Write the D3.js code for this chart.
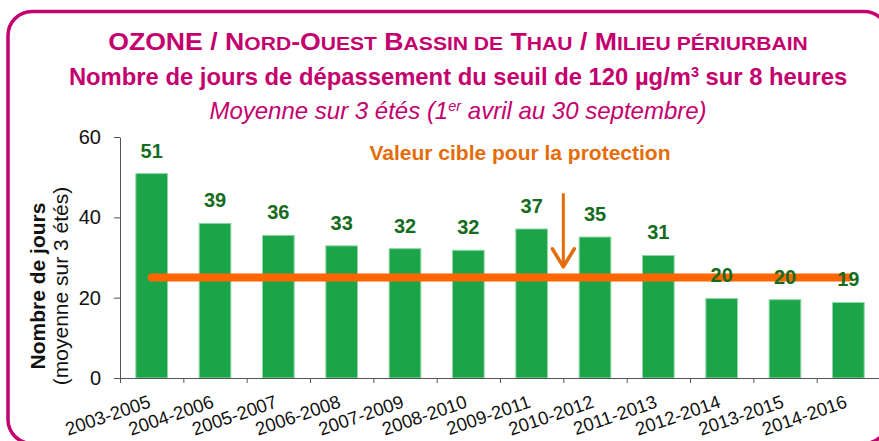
<!DOCTYPE html>
<html>
<head>
<meta charset="utf-8">
<script src="https://cdn.jsdelivr.net/npm/d3@7"></script>
<style>
  body { margin: 0; background: #fff; }
  text { font-family: "Liberation Sans", Arial, sans-serif; }
</style>
</head>
<body>
<div id="chart"></div>
<script>
// data
const periods = ["2003-2005", "2004-2006", "2005-2007", "2006-2008", "2007-2009", "2008-2010",
  "2009-2011", "2010-2012", "2011-2013", "2012-2014", "2013-2015", "2014-2016"];
const jours = [50.9, 38.5, 35.5, 32.9, 32.2, 31.8, 37.1, 35.1, 30.5, 19.8, 19.5, 18.8];
const valeurCible = 25;
const yTicks = [0, 20, 40, 60];

const svgWidth = 879;
const svgHeight = 441;
const plot = { left: 120, right: 880, top: 137, bottom: 378 };

const magenta = "#c4006e";
const orangeText = "#e46c0a";

const svg = d3.select("#chart")
  .append("svg")
  .attr("width", svgWidth)
  .attr("height", svgHeight);

// frame
svg.append("rect")
  .attr("x", 8).attr("y", 11.5)
  .attr("width", 880).attr("height", 432)
  .attr("rx", 24)
  .attr("fill", "none")
  .attr("stroke", magenta)
  .attr("stroke-width", 3.5);

// titles
const cx = 458;
const t1 = svg.append("text")
  .attr("x", 0).attr("y", 0)
  .attr("transform", `translate(${cx},50) scale(1.11,1)`)
  .attr("text-anchor", "middle")
  .attr("font-weight", "bold")
  .attr("font-size", 24)
  .attr("fill", magenta);
// small caps built by hand: [text, isSmall]
const t1parts = [["OZONE / N", 0], ["ORD", 1], ["-O", 0], ["UEST", 1], [" B", 0], ["ASSIN DE", 1],
  [" T", 0], ["HAU", 1], [" / M", 0], ["ILIEU PÉRIURBAIN", 1]];
t1parts.forEach(p => {
  t1.append("tspan").attr("font-size", p[1] ? 19 : 24).text(p[0]);
});

const t2 = svg.append("text")
  .attr("x", cx).attr("y", 85)
  .attr("text-anchor", "middle")
  .attr("font-weight", "bold")
  .attr("font-size", 23.8)
  .attr("fill", magenta);
t2.append("tspan").text("Nombre de jours de dépassement du seuil de 120 µg/m");
t2.append("tspan").attr("font-size", 14.5).attr("dy", -8).text("3");
t2.append("tspan").attr("dy", 8).text(" sur 8 heures");

const t3 = svg.append("text")
  .attr("x", cx).attr("y", 119)
  .attr("text-anchor", "middle")
  .attr("font-style", "italic")
  .attr("font-size", 24)
  .attr("fill", magenta);
t3.append("tspan").text("Moyenne sur 3 étés (1");
t3.append("tspan").attr("font-size", 14.5).attr("dy", -8).text("er");
t3.append("tspan").attr("dy", 8).text(" avril au 30 septembre)");

// scales
const x = d3.scaleBand()
  .domain(periods)
  .range([plot.left, plot.right])
  .paddingInner(0.5)
  .paddingOuter(0.25);

const xEdge = d3.scaleLinear()
  .domain([0, periods.length])
  .range([plot.left, plot.right]);

const y = d3.scaleLinear()
  .domain([0, 60])
  .range([plot.bottom, plot.top]);

// bars
svg.append("g")
  .selectAll("rect")
  .data(jours)
  .enter()
  .append("rect")
  .attr("x", (d, i) => x(periods[i]))
  .attr("y", d => y(d))
  .attr("width", x.bandwidth())
  .attr("height", d => y(0) - y(d))
  .attr("fill", "#1ca548")
  .attr("stroke", "#8fd6a6")
  .attr("stroke-width", 1);

// y axis
const yAxis = svg.append("g")
  .attr("transform", `translate(${plot.left},0)`)
  .call(d3.axisLeft(y).tickValues(yTicks).tickSize(6).tickSizeOuter(0).tickPadding(13));
yAxis.selectAll("text").attr("font-size", 20).attr("fill", "#111").style("font-family", "Liberation Sans, Arial");
yAxis.selectAll("path, line").attr("stroke", "#555");

// x axis : ticks between categories
const xTickAxis = svg.append("g")
  .attr("transform", `translate(0,${plot.bottom})`)
  .call(d3.axisBottom(xEdge).tickValues(d3.range(0, periods.length + 1)).tickFormat("").tickSize(5).tickSizeOuter(0));
xTickAxis.selectAll("path, line").attr("stroke", "#555");

const xLabelAxis = svg.append("g")
  .attr("transform", `translate(0,${plot.bottom})`)
  .call(d3.axisBottom(x).tickSize(0));
xLabelAxis.select(".domain").remove();
xLabelAxis.selectAll("text")
  .attr("x", 0).attr("y", 0).attr("dy", 0)
  .attr("text-anchor", "end")
  .attr("transform", "translate(0,29) rotate(-19)")
  .attr("font-size", 18.5)
  .attr("fill", "#111")
  .style("font-family", "Liberation Sans, Arial");

// target line
const first = periods[0], last = periods[periods.length - 1];
svg.append("line")
  .attr("x1", x(first) + x.bandwidth() / 2)
  .attr("x2", x(last) + x.bandwidth() / 2)
  .attr("y1", y(valeurCible))
  .attr("y2", y(valeurCible))
  .attr("stroke", "#ff6600")
  .attr("stroke-width", 8)
  .attr("stroke-linecap", "round");

// value labels
svg.append("g")
  .selectAll("text")
  .data(jours)
  .enter()
  .append("text")
  .attr("x", (d, i) => x(periods[i]) + x.bandwidth() / 2)
  .attr("y", d => y(d) - 16)
  .attr("text-anchor", "middle")
  .attr("font-weight", "bold")
  .attr("font-size", 20)
  .attr("fill", "#166c1d")
  .text(d => Math.round(d));

// annotation
svg.append("text")
  .attr("x", 520).attr("y", 160)
  .attr("text-anchor", "middle")
  .attr("font-weight", "bold")
  .attr("font-size", 21)
  .attr("fill", orangeText)
  .text("Valeur cible pour la protection");

const ax = xEdge(7);
const aTop = y(46), aTip = y(27.7);
svg.append("line")
  .attr("x1", ax).attr("x2", ax)
  .attr("y1", aTop).attr("y2", aTip - 1)
  .attr("stroke", orangeText).attr("stroke-width", 3);
svg.append("path")
  .attr("d", `M${ax - 11},${aTip - 18} L${ax},${aTip} L${ax + 11},${aTip - 18}`)
  .attr("fill", "none")
  .attr("stroke", orangeText)
  .attr("stroke-width", 3.5)
  .attr("stroke-linecap", "round")
  .attr("stroke-linejoin", "round");

// y axis title
const yt = svg.append("g").attr("transform", "translate(0,286) rotate(-90)");
yt.append("text")
  .attr("x", 0).attr("y", 45)
  .attr("text-anchor", "middle")
  .attr("font-weight", "bold")
  .attr("font-size", 21)
  .attr("fill", "#111")
  .text("Nombre de jours");
yt.append("text")
  .attr("x", 0).attr("y", 68)
  .attr("text-anchor", "middle")
  .attr("font-size", 21)
  .attr("fill", "#111")
  .text("(moyenne sur 3 étés)");
</script>
</body>
</html>
